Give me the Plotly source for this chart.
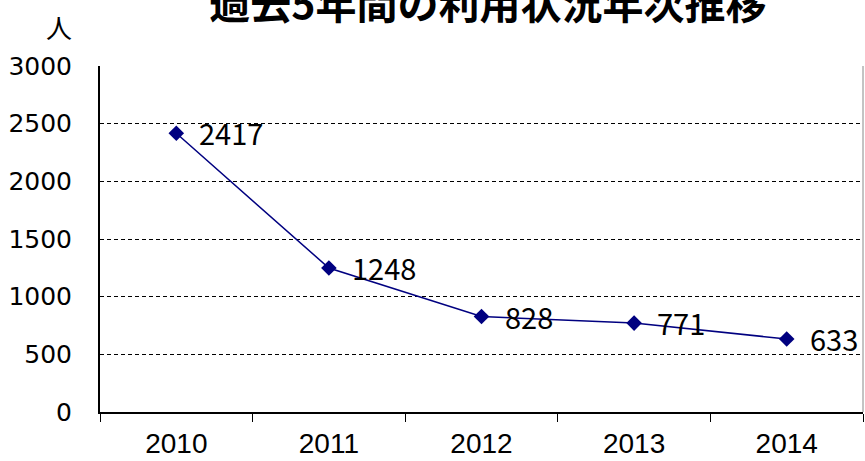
import plotly.graph_objects as go

years = ["2010", "2011", "2012", "2013", "2014"]
users = [2417, 1248, 828, 771, 633]
y_ticks = [0, 500, 1000, 1500, 2000, 2500, 3000]
title_text = "過去5年間の利用状況年次推移"
y_unit = "人"

fig = go.Figure()
fig.add_trace(go.Scatter(
    x=years, y=users, mode="lines+markers",
    line=dict(color="#000080", width=1.5),
    marker=dict(symbol="diamond", size=12, color="#000080"),
    cliponaxis=False, showlegend=False,
))

annotations = [dict(x=i, y=v, xref="x", yref="y", text=str(v), showarrow=False,
                    xanchor="left", yanchor="middle", xshift=21, yshift=1,
                    font=dict(family="Noto Sans CJK JP, sans-serif", size=29, color="black"))
               for i, v in enumerate(users)]
annotations.append(dict(text=y_unit, xref="paper", yref="paper", x=-0.0537, y=1.1156,
                        xanchor="center", yanchor="middle", showarrow=False,
                        font=dict(family="Noto Sans CJK JP, sans-serif", size=26, color="black")))

fig.update_layout(
    width=865, height=461,
    margin=dict(l=100, r=2, t=66, b=49),
    paper_bgcolor="white", plot_bgcolor="white",
    title=dict(text=f"<b>{title_text}</b>", x=0.564, xanchor="center", xref="container",
               y=0.99, yanchor="middle", yref="container",
               font=dict(family="Noto Sans CJK JP, sans-serif", size=41, color="black")),
    annotations=annotations,
    shapes=[dict(type="line", xref="paper", yref="paper", x0=1, x1=1, y0=0, y1=1,
                 line=dict(color="#888888", width=1))],
)
fig.update_xaxes(
    type="category", showgrid=False, showline=True, linecolor="black", linewidth=2,
    ticks="outside", tickson="boundaries", ticklen=8, tickcolor="black", tickwidth=1,
    tickfont=dict(family="Liberation Sans, Arial, sans-serif", size=28, color="black"),
    ticklabelstandoff=5, range=[-0.5, 4.5], automargin=False,
)
fig.update_yaxes(
    range=[0, 3000], tickvals=y_ticks, showline=True, linecolor="black", linewidth=2,
    showgrid=True, gridcolor="black", griddash="4px,3px", gridwidth=1,
    ticks="", tickfont=dict(family="DejaVu Sans, sans-serif", size=25, color="black"),
    ticklabelstandoff=21, zeroline=False, automargin=False,
)

fig.write_html("out.html", config={"displayModeBar": False},
               post_script="document.body.style.margin='0px';")
